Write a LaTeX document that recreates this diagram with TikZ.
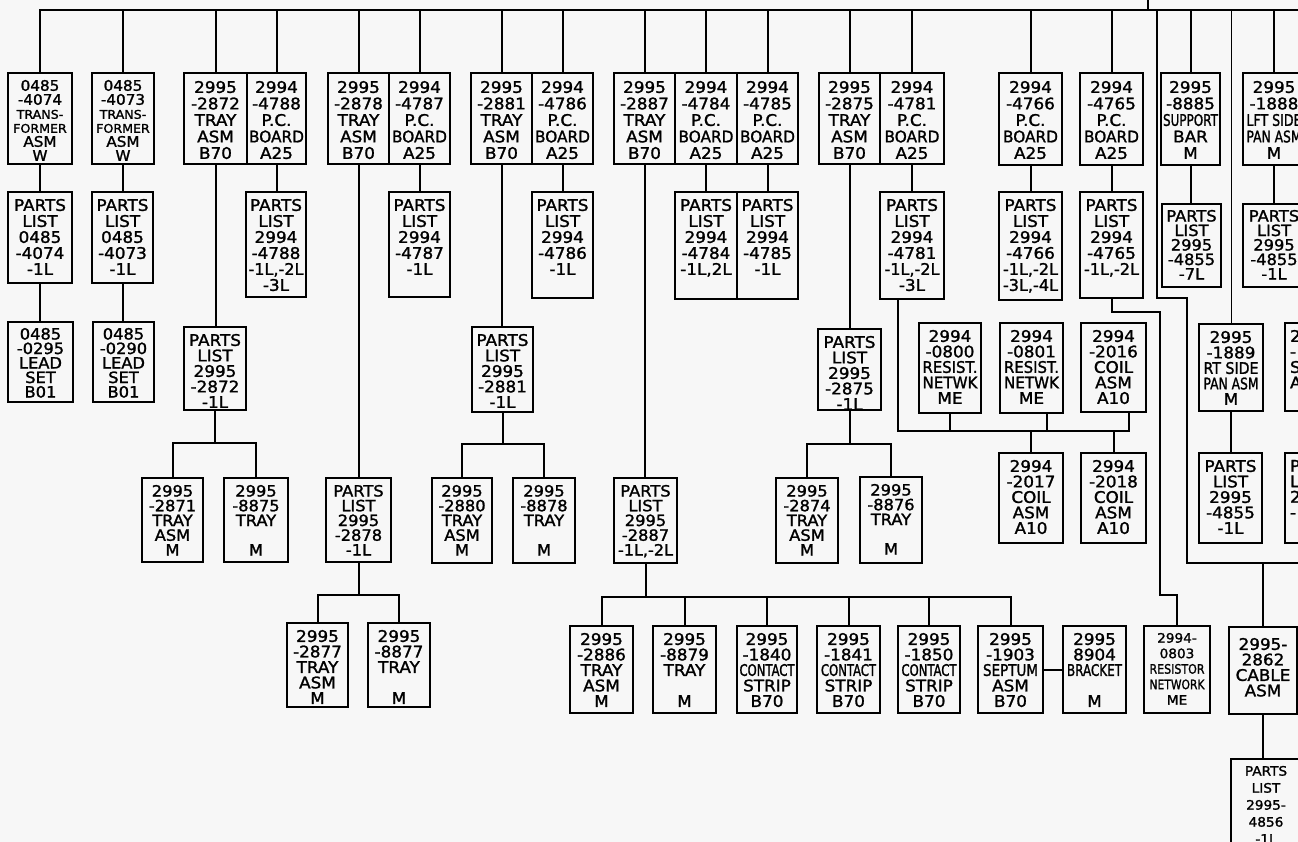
\documentclass[tikz,border=0pt]{standalone}
\usepackage{fontspec}
\setmainfont{DejaVu Sans}[FakeStretch=1.05, FakeBold=1.5]
\usepackage{graphicx}
\usetikzlibrary{calc}
\newsavebox\sqzbox
\newcommand\sqz[1]{\sbox\sqzbox{#1}\ifdim\wd\sqzbox>55pt\resizebox{55pt}{\height}{\usebox\sqzbox}\else\usebox\sqzbox\fi}
\newcommand\fz[2]{\fontsize{#1}{#2}\selectfont}
\newcommand\bx[7][]{%
  \node[boxst, minimum width=#5pt, minimum height=#6pt, anchor=north west] (#2) at (#3,#4) {};%
  \node[txt, anchor=north, #1] (#2t) at ([yshift=-6pt]#2.north) {#7};}
\tikzset{
  boxst/.style={draw, line width=2.2pt, inner sep=0pt, outer sep=0pt},
  txt/.style={align=center, inner sep=0pt, font=\fz{16}{15.5}},
  r1/.style={font=\fz{16}{16.5}, yshift=-1pt},
  pl/.style={font=\fz{16}{16}},
  r3/.style={font=\fz{15.5}{14.5}, yshift=1pt},
  r5/.style={font=\fz{15.5}{14.75}},
  thinln/.style={line width=1pt},
}
\begin{document}
\begin{tikzpicture}[x=1pt, y=-1pt, line width=2pt]
\useasboundingbox (0,0) rectangle (1298,842);
\fill[black!3] (0,0) rectangle (1298,842);
\clip (0,0) rectangle (1298,842);

% ---------- row 1
\bx[font=\fz{14.5}{14}]{A1}{8}{73}{64}{91}{0485\\-4074\\\sqz{\fz{12}{14}TRANS-}\\\sqz{\fz{12}{14}FORMER}\\ASM\\W}
\bx[font=\fz{14.5}{14}]{A2}{92}{73}{62}{91}{0485\\-4073\\\sqz{\fz{12}{14}TRANS-}\\\sqz{\fz{12}{14}FORMER}\\ASM\\W}
\bx[r1]{B1}{184}{73}{63}{91}{2995\\-2872\\TRAY\\ASM\\B70}
\bx[r1]{B2}{247}{73}{59}{91}{2994\\-4788\\P.C.\\\sqz{BOARD}\\A25}
\bx[r1]{C1}{328}{73}{61}{91}{2995\\-2878\\TRAY\\ASM\\B70}
\bx[r1]{C2}{389}{73}{61}{91}{2994\\-4787\\P.C.\\\sqz{BOARD}\\A25}
\bx[r1]{D1}{471}{73}{61}{91}{2995\\-2881\\TRAY\\ASM\\B70}
\bx[r1]{D2}{532}{73}{61}{91}{2994\\-4786\\P.C.\\\sqz{BOARD}\\A25}
\bx[r1]{E1}{614}{73}{61}{91}{2995\\-2887\\TRAY\\ASM\\B70}
\bx[r1]{E2}{675}{73}{62}{91}{2994\\-4784\\P.C.\\\sqz{BOARD}\\A25}
\bx[r1]{E3}{737}{73}{61}{91}{2994\\-4785\\P.C.\\\sqz{BOARD}\\A25}
\bx[r1]{F1}{819}{73}{61}{91}{2995\\-2875\\TRAY\\ASM\\B70}
\bx[r1]{F2}{880}{73}{64}{91}{2994\\-4781\\P.C.\\\sqz{BOARD}\\A25}
\bx[r1]{G}{999}{73}{63}{92}{2994\\-4766\\P.C.\\\sqz{BOARD}\\A25}
\bx[r1]{H}{1080}{73}{63}{92}{2994\\-4765\\P.C.\\\sqz{BOARD}\\A25}
\bx[r1]{I}{1161}{73}{59}{92}{2995\\-8885\\\sqz{SUPPORT}\\BAR\\M}
\bx[r1]{J}{1243}{73}{62}{92}{2995\\-1888\\\sqz{LFT SIDE}\\\sqz{PAN ASM}\\M}

% ---------- row 2
\bx[pl]{A1L}{8}{192}{64}{91}{\sqz{PARTS}\\LIST\\0485\\-4074\\-1L}
\bx[pl]{A2L}{92}{192}{61}{91}{\sqz{PARTS}\\LIST\\0485\\-4073\\-1L}
\bx[pl]{B2L}{246}{192}{60}{105}{\sqz{PARTS}\\LIST\\2994\\-4788\\\sqz{-1L,-2L}\\-3L}
\bx[pl]{C2L}{389}{192}{61}{105}{\sqz{PARTS}\\LIST\\2994\\-4787\\-1L}
\bx[pl]{D2L}{532}{192}{61}{106}{\sqz{PARTS}\\LIST\\2994\\-4786\\-1L}
\bx[pl]{E2L}{675}{192}{62}{107}{\sqz{PARTS}\\LIST\\2994\\-4784\\\sqz{-1L,2L}}
\bx[pl]{E3L}{737}{192}{61}{107}{\sqz{PARTS}\\LIST\\2994\\-4785\\-1L}
\bx[pl]{F2L}{880}{192}{64}{107}{\sqz{PARTS}\\LIST\\2994\\-4781\\\sqz{-1L,-2L}\\-3L}
\bx[pl]{GL}{999}{192}{63}{108}{\sqz{PARTS}\\LIST\\2994\\-4766\\\sqz{-1L,-2L}\\\sqz{-3L,-4L}}
\bx[pl]{HL}{1080}{192}{63}{106}{\sqz{PARTS}\\LIST\\2994\\-4765\\\sqz{-1L,-2L}}
\bx[r3]{IL}{1162}{204}{59}{83}{\sqz{PARTS}\\LIST\\2995\\-4855\\-7L}
\bx[r3]{JL}{1243}{204}{62}{83}{\sqz{PARTS}\\LIST\\2995\\-4855\\-1L}

% ---------- row 3
\bx[r3]{A1S}{8}{322}{65}{80}{0485\\-0295\\LEAD\\SET\\B01}
\bx[r3]{A2S}{93}{322}{61}{80}{0485\\-0290\\LEAD\\SET\\B01}
\bx{B1L}{184}{327}{62}{83}{\sqz{PARTS}\\LIST\\2995\\-2872\\-1L}
\bx{D1L}{472}{327}{61}{85}{\sqz{PARTS}\\LIST\\2995\\-2881\\-1L}
\bx{F1L}{818}{329}{63}{81}{\sqz{PARTS}\\LIST\\2995\\-2875\\-1L}
\bx{R0800}{919}{323}{62}{90}{2994\\-0800\\\sqz{RESIST.}\\\sqz{NETWK}\\ME}
\bx{R0801}{1000}{323}{63}{90}{2994\\-0801\\\sqz{RESIST.}\\\sqz{NETWK}\\ME}
\bx{C2016}{1081}{323}{65}{89}{2994\\-2016\\COIL\\ASM\\A10}
\bx{RT}{1199}{324}{64}{87}{2995\\-1889\\\sqz{RT SIDE}\\\sqz{PAN ASM}\\M}
\node[boxst, minimum width=62pt, minimum height=88pt, anchor=north west] (K) at (1285,323) {};
\node[txt, anchor=north west, align=left] (Kt) at ([xshift=4pt,yshift=-6pt]K.north west) {2\\-\\S\\A};

% ---------- row 4
\bx{C2017}{999}{453}{64}{90}{2994\\-2017\\COIL\\ASM\\A10}
\bx{C2018}{1081}{453}{65}{90}{2994\\-2018\\COIL\\ASM\\A10}
\bx{RTL}{1199}{453}{63}{90}{\sqz{PARTS}\\LIST\\2995\\-4855\\-1L}
\node[boxst, minimum width=62pt, minimum height=90pt, anchor=north west] (KL) at (1285,453) {};
\node[txt, anchor=north west, align=left] (KLt) at ([xshift=4pt,yshift=-6pt]KL.north west) {P\\L\\2\\-};

% ---------- row 5
\bx[r5]{T2871}{142}{478}{61}{84}{2995\\-2871\\TRAY\\ASM\\M}
\bx[r5]{T8875}{224}{478}{64}{84}{2995\\-8875\\TRAY\\\mbox{}\\M}
\bx[r5]{C1L}{326}{478}{65}{84}{\sqz{PARTS}\\LIST\\2995\\-2878\\-1L}
\bx[r5]{T2880}{432}{478}{60}{85}{2995\\-2880\\TRAY\\ASM\\M}
\bx[r5]{T8878}{513}{478}{62}{85}{2995\\-8878\\TRAY\\\mbox{}\\M}
\bx[r5]{E1L}{614}{478}{63}{85}{\sqz{PARTS}\\LIST\\2995\\-2887\\\sqz{-1L,-2L}}
\bx[r5]{T2874}{776}{478}{62}{85}{2995\\-2874\\TRAY\\ASM\\M}
\bx[r5]{T8876}{860}{477}{62}{86}{2995\\-8876\\TRAY\\\mbox{}\\M}

% ---------- row 6
\bx{T2877}{287}{623}{61}{84}{2995\\-2877\\TRAY\\ASM\\M}
\bx{T8877}{368}{623}{62}{84}{2995\\-8877\\TRAY\\\mbox{}\\M}
\bx{T2886}{570}{626}{63}{87}{2995\\-2886\\TRAY\\ASM\\M}
\bx{T8879}{653}{626}{63}{87}{2995\\-8879\\TRAY\\\mbox{}\\M}
\bx{S1840}{737}{626}{60}{87}{2995\\-1840\\\sqz{CONTACT}\\\sqz{STRIP}\\B70}
\bx{S1841}{817}{626}{63}{87}{2995\\-1841\\\sqz{CONTACT}\\\sqz{STRIP}\\B70}
\bx{S1850}{898}{626}{62}{87}{2995\\-1850\\\sqz{CONTACT}\\\sqz{STRIP}\\B70}
\bx{S1903}{978}{626}{65}{87}{2995\\-1903\\\sqz{SEPTUM}\\ASM\\B70}
\bx{B8904}{1063}{626}{63}{87}{2995\\8904\\\sqz{BRACKET}\\\mbox{}\\M}
\bx[font=\fz{13}{15.5}]{R0803}{1144}{626}{66}{87}{2994-\\0803\\\sqz{RESISTOR}\\\sqz{NETWORK}\\ME}
\bx[yshift=-4pt]{CAB}{1229}{627}{68}{87}{2995-\\2862\\CABLE\\ASM}
\bx[font=\fz{13}{17}]{PL4856}{1231}{759}{70}{100}{PARTS\\LIST\\2995-\\4856\\-1L}

% ---------- bus
\coordinate (busL) at (40,10);
\coordinate (busR) at (1298,10);
\coordinate (busJ) at (1148,10);
\coordinate (topin) at (1148,0);
\draw (A1.north) |- (busR);
\draw (busJ) -- (topin);
\foreach \n in {A2,B1,B2,C1,C2,D1,D2,E1,E2,E3,F1,F2,G,H,I,J}
  \draw (\n.north) -- (\n.north |- busL);
\draw[thinln] (RT.north) -- (RT.north |- busL);

% ---------- straight vertical links
\foreach \a/\b in {A1/A1L, A2/A2L, B2/B2L, C2/C2L, D2/D2L, E2/E2L, E3/E3L, F2/F2L,
  G/GL, H/HL, I/IL, J/JL, A1L/A1S, A2L/A2S, B1/B1L, C1/C1L, D1/D1L, E1/E1L, F1/F1L,
  RT/RTL, K/KL, CAB/PL4856}
  \draw (\a.south) -- (\a.south |- \b.north);

% ---------- trees
\coordinate (jB) at (B1L.south |- 0,443);
\draw (B1L.south) -- (jB);
\draw (T2871.north) |- (T8875.north |- jB) -- (T8875.north);

\coordinate (jC) at (C1L.south |- 0,595);
\draw (C1L.south) -- (jC);
\draw (T2877.north) |- (T8877.north |- jC) -- (T8877.north);

\coordinate (jD) at (D1L.south |- 0,444);
\draw (D1L.south) -- (jD);
\draw (T2880.north) |- (T8878.north |- jD) -- (T8878.north);

\coordinate (jF) at (F1L.south |- 0,444);
\draw (F1L.south) -- (jF);
\draw (T2874.north) |- (T8876.north |- jF) -- (T8876.north);

\coordinate (jE) at (E1L.south |- 0,597);
\draw (E1L.south) -- (jE);
\draw (T2886.north) |- (S1903.north |- jE) -- (S1903.north);
\foreach \n in {T8879,S1840,S1841,S1850}
  \draw (\n.north) -- (\n.north |- jE);
\draw (S1903.east) -- (B8904.west);

% ---------- resistor / coil group
\coordinate (fo) at ($(F2L.south)+(-14,0)$);
\coordinate (c16) at ($(C2016.south)+(15,0)$);
\coordinate (c01) at ($(R0801.south)+(15,0)$);
\coordinate (jR) at (fo |- 0,431);
\draw (fo) -- (jR) -- (jR -| c16) -- (c16);
\draw (R0800.south) -- (R0800.south |- jR);
\draw (c01) -- (c01 |- jR);
\draw (C2017.north) -- (C2017.north |- jR);
\draw (C2018.north) -- (C2018.north |- jR);

% ---------- right side long lines
\coordinate (a1) at (1157,10);
\coordinate (a2) at (1157,298);
\coordinate (a3) at (1187,298);
\coordinate (a4) at (1187,563);
\coordinate (a5) at (1298,563);
\draw (a1) -- (a2) -- (a3) -- (a4) -- (a5);
\draw (CAB.north) -- (CAB.north |- a5);

\coordinate (b1) at (1160,312);
\coordinate (b2) at (1160,595);
\draw (HL.south) |- (b1) -- (b2) -| (R0803.north);
\end{tikzpicture}
\end{document}
